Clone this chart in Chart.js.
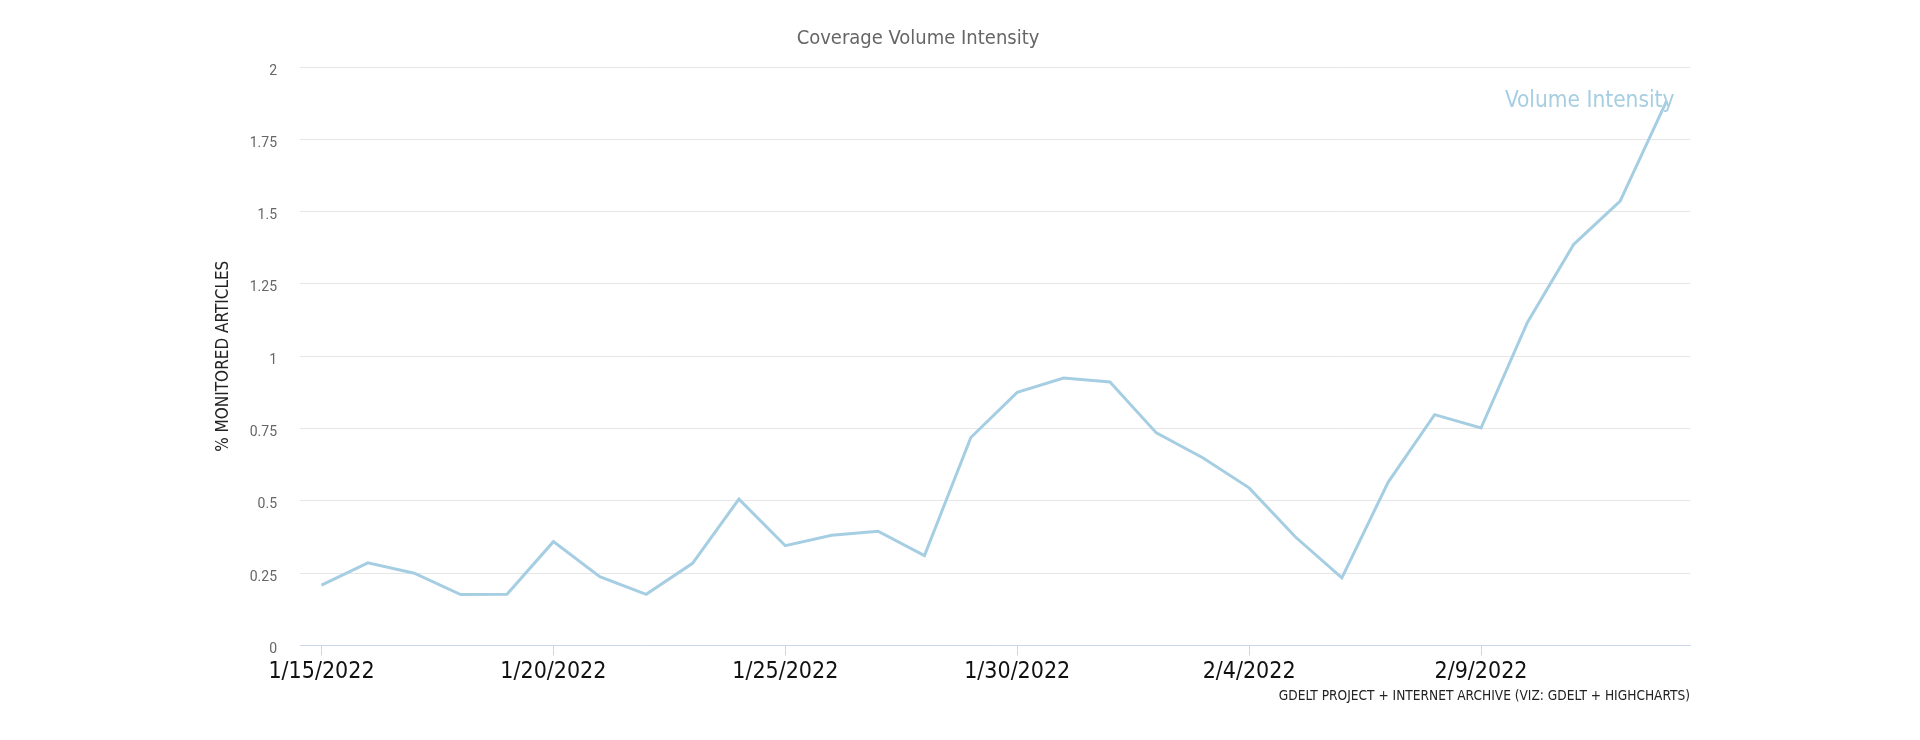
<!DOCTYPE html>
<html>
<head>
<meta charset="utf-8">
<title>Coverage Volume Intensity</title>
<script src="https://cdn.jsdelivr.net/npm/chart.js@4"></script>
<style>
  html, body { margin: 0; padding: 0; background: #ffffff; }
  #wrap { width: 1920px; height: 740px; }
</style>
</head>
<body>
<div id="wrap"><canvas id="volumeChart" width="1920" height="740"></canvas></div>
<script>
// Daily values, 1/15/2022 .. 2/13/2022
const dates = [
  '1/15/2022', '1/16/2022', '1/17/2022', '1/18/2022', '1/19/2022',
  '1/20/2022', '1/21/2022', '1/22/2022', '1/23/2022', '1/24/2022',
  '1/25/2022', '1/26/2022', '1/27/2022', '1/28/2022', '1/29/2022',
  '1/30/2022', '1/31/2022', '2/1/2022', '2/2/2022', '2/3/2022',
  '2/4/2022', '2/5/2022', '2/6/2022', '2/7/2022', '2/8/2022',
  '2/9/2022', '2/10/2022', '2/11/2022', '2/12/2022', '2/13/2022'
];
const volumeIntensity = [
  0.209, 0.286, 0.250, 0.176, 0.177,
  0.359, 0.238, 0.177, 0.284, 0.506,
  0.345, 0.381, 0.395, 0.311, 0.719,
  0.875, 0.925, 0.911, 0.735, 0.649,
  0.545, 0.375, 0.234, 0.565, 0.798,
  0.752, 1.117, 1.387, 1.536, 1.882
];
const xTickLabels = ['1/15/2022', '1/20/2022', '1/25/2022', '1/30/2022', '2/4/2022', '2/9/2022'];
const yTickLabels = ['0', '0.25', '0.5', '0.75', '1', '1.25', '1.5', '1.75', '2'];

const chartTitle = 'Coverage Volume Intensity';
const seriesName = 'Volume Intensity';
const yAxisTitle = '% MONITORED ARTICLES';
const credits = 'GDELT PROJECT + INTERNET ARCHIVE (VIZ: GDELT + HIGHCHARTS)';

const lineColor = '#a6cee3';
const narrowFont = '"Liberation Sans Narrow", "DejaVu Sans Condensed", sans-serif';

// extra text: title, axis title, credits and the series label at the last point
const textPlugin = {
  id: 'chartText',
  afterDraw(chart) {
    const ctx = chart.ctx;
    const area = chart.chartArea;
    ctx.save();

    ctx.font = '20px ' + narrowFont;
    ctx.fillStyle = '#666666';
    ctx.textAlign = 'center';
    ctx.textBaseline = 'middle';
    ctx.fillText(chartTitle, 918, 39);

    ctx.save();
    ctx.translate(224, (area.top + area.bottom) / 2);
    ctx.rotate(-Math.PI / 2);
    ctx.font = '17px ' + narrowFont;
    ctx.fillStyle = '#222222';
    ctx.fillText(yAxisTitle, 0, 0);
    ctx.restore();

    ctx.font = '13.6px ' + narrowFont;
    ctx.fillStyle = '#222222';
    ctx.textAlign = 'right';
    ctx.fillText(credits, area.right, 696);

    const meta = chart.getDatasetMeta(0);
    const last = meta.data[meta.data.length - 1];
    ctx.font = '22.5px ' + narrowFont;
    ctx.fillStyle = lineColor;
    ctx.textAlign = 'right';
    ctx.fillText(seriesName, last.x + 8, last.y);

    ctx.restore();
  }
};

const ctx = document.getElementById('volumeChart').getContext('2d');
const volumeChart = new Chart(ctx, {
  type: 'line',
  data: {
    datasets: [{
      label: seriesName,
      data: volumeIntensity.map((v, i) => ({ x: i, y: v })),
      borderColor: lineColor,
      backgroundColor: lineColor,
      borderWidth: 3,
      pointRadius: 0,
      tension: 0,
      fill: false
    }]
  },
  options: {
    responsive: false,
    animation: false,
    devicePixelRatio: 1,
    layout: { padding: { top: 67, right: 230, bottom: 0, left: 0 } },
    plugins: {
      legend: { display: false },
      title: { display: false },
      tooltip: { enabled: false }
    },
    scales: {
      x: {
        type: 'linear',
        min: -0.4636,
        max: 29.506,
        afterBuildTicks: scale => {
          scale.ticks = xTickLabels.map(l => ({ value: dates.indexOf(l) }));
        },
        afterFit: scale => { scale.height = 94.5; },
        ticks: {
          autoSkip: false,
          maxRotation: 0,
          padding: 3,
          color: '#111111',
          font: { family: 'DejaVu Sans Condensed', size: 23 },
          callback: value => dates[value]
        },
        grid: {
          drawOnChartArea: false,
          drawTicks: true,
          tickLength: 10,
          color: '#ccd6eb'
        },
        border: { display: true, color: '#ccd6eb', width: 1 }
      },
      y: {
        min: 0,
        max: 2,
        afterBuildTicks: scale => {
          scale.ticks = yTickLabels.map(l => ({ value: parseFloat(l) }));
        },
        afterFit: scale => { scale.width = 300; },
        ticks: {
          padding: 23,
          labelOffset: 4,
          color: '#666666',
          font: { family: 'Roboto', size: 14 },
          callback: (value, index) => yTickLabels[index]
        },
        grid: {
          drawTicks: false,
          color: '#e6e6e6',
          lineWidth: 1
        },
        border: { display: false }
      }
    }
  },
  plugins: [textPlugin]
});
</script>
</body>
</html>
